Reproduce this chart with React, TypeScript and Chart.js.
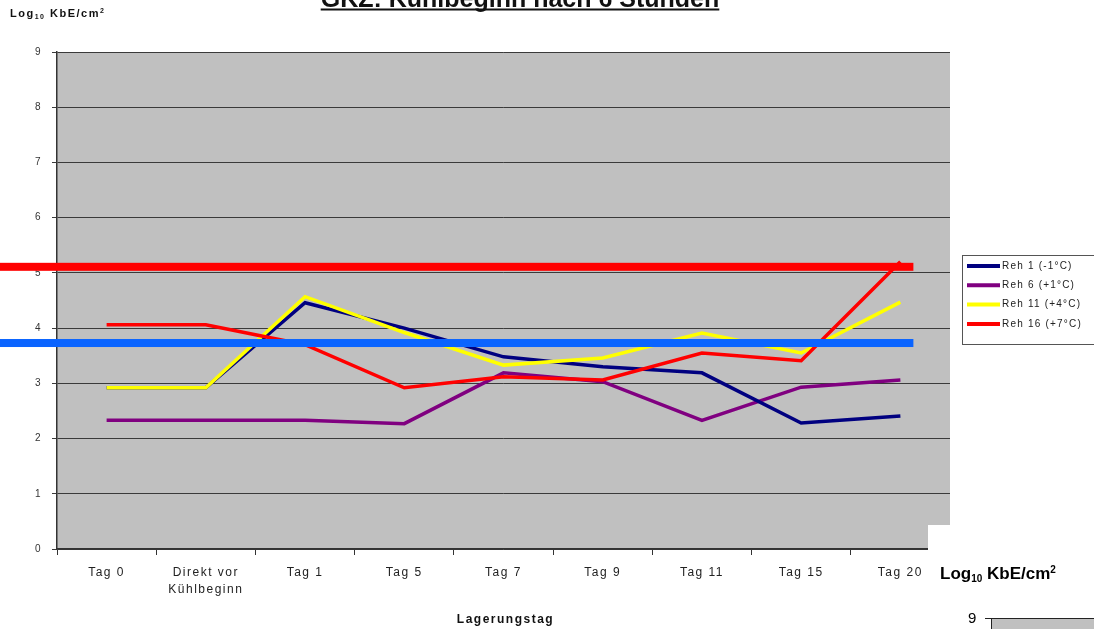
import React, { useEffect, useRef } from "react";
import { Chart, registerables } from "chart.js";

Chart.register(...registerables);

const FONT = "'Liberation Sans', Arial, sans-serif";

const categories: (string | string[])[] = [
  "Tag 0",
  ["Direkt vor", "Kühlbeginn"],
  "Tag 1",
  "Tag 5",
  "Tag 7",
  "Tag 9",
  "Tag 11",
  "Tag 15",
  "Tag 20",
];
const reh1 = [2.92, 2.92, 4.46, 4.0, 3.48, 3.3, 3.19, 2.28, 2.41];
const reh6 = [2.33, 2.33, 2.33, 2.27, 3.19, 3.03, 2.33, 2.93, 3.06];
const reh11 = [2.92, 2.92, 4.57, 3.92, 3.33, 3.46, 3.91, 3.55, 4.47];
const reh16 = [4.06, 4.06, 3.7, 2.92, 3.12, 3.06, 3.55, 3.41, 5.2];
const seriesNames = ["Reh 1 (-1°C)", "Reh 6 (+1°C)", "Reh 11 (+4°C)", "Reh 16 (+7°C)"];
const seriesColors = ["#000080", "#800080", "#ffff00", "#ff0000"];
const seriesOrder = [2, 3, 1, 0];
const yMin = 0;
const yMax = 9;
const markerValues = [5.11, 3.73];
const markerColors = ["#ff0000", "#0a64ff"];
const chartTitle = "GKZ: Kühlbeginn nach 6 Stunden";
const xTitle = "Lagerungstag";

function drawLogUnit(
  ctx: CanvasRenderingContext2D,
  x: number,
  y: number,
  size: number,
  subSize: number,
  spacing: number,
  color: string
) {
  ctx.save();
  ctx.fillStyle = color;
  ctx.textAlign = "left";
  ctx.textBaseline = "alphabetic";
  (ctx as any).letterSpacing = spacing + "px";
  ctx.font = `bold ${size}px ${FONT}`;
  ctx.fillText("Log", x, y);
  let cx = x + ctx.measureText("Log").width;
  ctx.font = `bold ${subSize}px ${FONT}`;
  ctx.fillText("10", cx, y + size * 0.2);
  cx += ctx.measureText("10").width;
  ctx.font = `bold ${size}px ${FONT}`;
  ctx.fillText(" KbE/cm", cx, y);
  cx += ctx.measureText(" KbE/cm").width;
  ctx.font = `bold ${subSize}px ${FONT}`;
  ctx.fillText("2", cx, y - size * 0.35);
  ctx.restore();
}

const spacingPlugin = {
  id: "spacing",
  beforeUpdate(chart: any) {
    chart.ctx.letterSpacing = "1.5px";
  },
  beforeDraw(chart: any) {
    const ctx = chart.ctx;
    ctx.letterSpacing = "1.5px";
    const a = chart.chartArea;
    ctx.save();
    ctx.fillStyle = "#ffffff";
    ctx.fillRect(0, 0, chart.width, chart.height);
    ctx.fillStyle = "#c0c0c0";
    ctx.fillRect(a.left, a.top, a.right - a.left, a.bottom - a.top);
    ctx.restore();
  },
};

const overlayPlugin = {
  id: "overlay",
  afterDatasetsDraw(chart: any) {
    const ctx = chart.ctx as CanvasRenderingContext2D;
    const xs = chart.scales.x;
    const ys = chart.scales.y;
    const xEnd = xs.getPixelForValue(categories.length - 1) + 13;
    ctx.save();
    markerValues.forEach((v, i) => {
      const y = ys.getPixelForValue(v);
      ctx.fillStyle = markerColors[i];
      ctx.fillRect(0, y - 4, xEnd, 8);
    });
    ctx.restore();
  },
  afterDraw(chart: any) {
    const ctx = chart.ctx as CanvasRenderingContext2D;
    const a = chart.chartArea;
    ctx.save();

    // legend
    const lx = a.right + 12;
    const ly = a.top + 203;
    ctx.fillStyle = "#ffffff";
    ctx.fillRect(lx, ly, chart.width - lx + 5, 90);
    ctx.strokeStyle = "#555";
    ctx.lineWidth = 1;
    ctx.strokeRect(lx + 0.5, ly + 0.5, chart.width - lx + 5, 89);
    (ctx as any).letterSpacing = "1.2px";
    ctx.font = `10px ${FONT}`;
    ctx.textBaseline = "middle";
    ctx.textAlign = "left";
    seriesNames.forEach((name, i) => {
      const ry = ly + 11 + i * 19.3;
      ctx.strokeStyle = seriesColors[i];
      ctx.lineWidth = 4;
      ctx.beginPath();
      ctx.moveTo(lx + 5, ry);
      ctx.lineTo(lx + 38, ry);
      ctx.stroke();
      ctx.fillStyle = "#222";
      ctx.fillText(name, lx + 40, ry);
    });

    // chart title (cut off at top)
    (ctx as any).letterSpacing = "0px";
    ctx.font = `bold 25px ${FONT}`;
    ctx.textAlign = "center";
    ctx.textBaseline = "alphabetic";
    ctx.fillStyle = "#111";
    const tx = 520;
    ctx.fillText(chartTitle, tx, 7);
    const tw = ctx.measureText(chartTitle).width;
    ctx.fillRect(tx - tw / 2, 8.5, tw, 2);

    // y axis title
    drawLogUnit(ctx, 10, 17, 11, 7, 1.5, "#111");

    // x axis title
    (ctx as any).letterSpacing = "1.5px";
    ctx.font = `bold 12px ${FONT}`;
    ctx.textAlign = "center";
    ctx.fillStyle = "#111";
    ctx.fillText(xTitle, (a.left + a.right) / 2 + 2, 623);

    // bottom-right fragment of another chart
    const bx = a.right - 22;
    const by = a.bottom - 24;
    ctx.fillStyle = "#ffffff";
    ctx.fillRect(bx, by, chart.width - bx, chart.height - by);
    drawLogUnit(ctx, bx + 12, by + 54, 17, 10, 0, "#000");
    (ctx as any).letterSpacing = "0px";
    ctx.font = `15px ${FONT}`;
    ctx.textAlign = "left";
    ctx.fillStyle = "#000";
    ctx.fillText("9", bx + 40, by + 98);
    ctx.fillStyle = "#c0c0c0";
    ctx.fillRect(bx + 64, by + 93, chart.width - bx - 64, 20);
    ctx.strokeStyle = "#222";
    ctx.lineWidth = 1;
    ctx.beginPath();
    ctx.moveTo(bx + 57, by + 93.5);
    ctx.lineTo(chart.width, by + 93.5);
    ctx.moveTo(bx + 63.5, by + 93);
    ctx.lineTo(bx + 63.5, chart.height);
    ctx.stroke();
    ctx.restore();
  },
};

export default function App() {
  const ref = useRef<HTMLCanvasElement>(null);
  useEffect(() => {
    const datasets = [reh1, reh6, reh11, reh16].map((d, i) => ({
      label: seriesNames[i],
      data: d,
      borderColor: seriesColors[i],
      backgroundColor: seriesColors[i],
      borderWidth: 3.5,
      pointRadius: 0,
      tension: 0,
      fill: false,
      order: seriesOrder[i],
    }));
    const chart = new Chart(ref.current!, {
      type: "line",
      data: { labels: categories as any, datasets },
      plugins: [spacingPlugin, overlayPlugin],
      options: {
        animation: false,
        responsive: true,
        maintainAspectRatio: false,
        layout: { padding: { top: 52, right: 144, left: 0, bottom: 0 } },
        plugins: {
          legend: { display: false },
          title: { display: false },
          tooltip: { enabled: false },
        },
        scales: {
          x: {
            type: "category",
            offset: true,
            grid: {
              display: true,
              drawOnChartArea: false,
              drawTicks: true,
              tickLength: 6,
              color: "#333",
              offset: true,
            },
            border: { display: true, color: "#333", width: 1.5 },
            ticks: {
              font: { family: FONT, size: 12, lineHeight: 1.4 },
              color: "#222",
              padding: 9,
              maxRotation: 0,
              autoSkip: false,
            },
            afterFit: (s: any) => {
              s.height = 80;
            },
          },
          y: {
            min: yMin,
            max: yMax,
            ticks: {
              stepSize: 1,
              font: { family: FONT, size: 10 },
              color: "#333",
              padding: 10,
            },
            grid: { color: "#3a3a3a", lineWidth: 1, tickLength: 5, drawTicks: true },
            border: { display: true, color: "#333", width: 1.5 },
            afterFit: (s: any) => {
              s.width = 57;
            },
          },
        },
      } as any,
    });
    return () => chart.destroy();
  }, []);
  return (
    <div style={{ position: "absolute", left: 0, top: 0, width: 1094, height: 629, background: "#fff" }}>
      <canvas ref={ref} />
    </div>
  );
}
